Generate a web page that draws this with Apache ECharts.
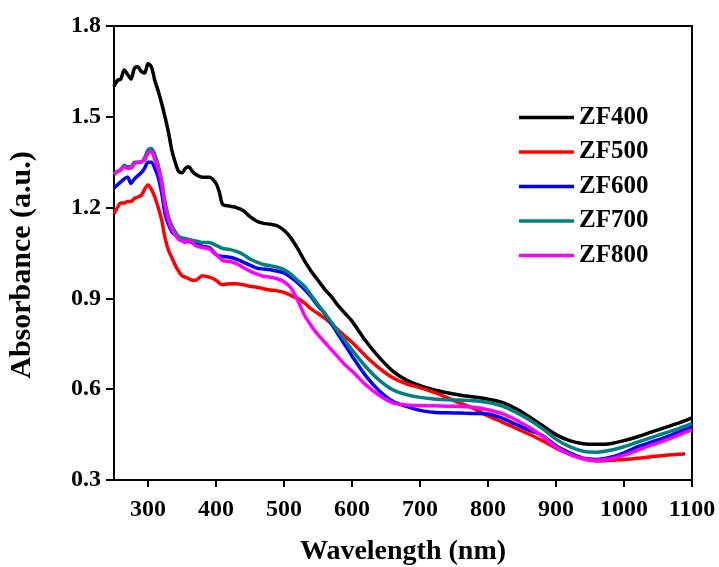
<!DOCTYPE html>
<html>
<head>
<meta charset="utf-8">
<script src="https://cdn.jsdelivr.net/npm/echarts@6/dist/echarts.min.js"></script>
<style>
  html, body { margin: 0; padding: 0; background: #fff; }
  #chart { width: 719px; height: 567px; }
</style>
</head>
<body>
<div id="chart"></div>
<script>
// Wavelength grid (nm) shared by all spectra
const wavelengths = [250, 255, 260, 265, 270, 275, 280, 285, 290, 295, 300, 305, 310, 315, 320, 325, 330, 335, 340, 345,
  350, 355, 360, 365, 370, 380, 390, 400, 405, 410, 420, 430, 440, 450, 460, 470, 480, 490, 500, 510,
  520, 530, 540, 550, 560, 570, 580, 590, 600, 620, 640, 660, 680, 700, 720, 740, 760, 780, 800, 820,
  840, 860, 880, 900, 920, 940, 960, 980, 1000, 1020, 1040, 1060, 1080, 1090, 1100];

const zf400 = [1.60, 1.62, 1.625, 1.655, 1.64, 1.625, 1.66, 1.665, 1.65, 1.645, 1.675, 1.665, 1.62, 1.585, 1.545, 1.50, 1.45, 1.39, 1.35, 1.32,
  1.315, 1.33, 1.335, 1.32, 1.31, 1.30, 1.30, 1.28, 1.25, 1.21, 1.205, 1.20, 1.19, 1.17, 1.155, 1.148, 1.145, 1.14, 1.125, 1.10,
  1.065, 1.025, 0.99, 0.96, 0.93, 0.905, 0.875, 0.85, 0.825, 0.76, 0.705, 0.66, 0.63, 0.612, 0.598, 0.588, 0.58, 0.574, 0.567, 0.557,
  0.537, 0.51, 0.48, 0.45, 0.43, 0.42, 0.418, 0.42, 0.43, 0.443, 0.458, 0.473, 0.488, 0.496, 0.505];

const zf500 = [1.18, 1.20, 1.215, 1.215, 1.22, 1.22, 1.23, 1.235, 1.24, 1.26, 1.275, 1.26, 1.235, 1.20, 1.16, 1.10, 1.06, 1.035, 1.01, 0.99,
  0.975, 0.97, 0.965, 0.96, 0.96, 0.975, 0.97, 0.96, 0.95, 0.945, 0.948, 0.948, 0.945, 0.94, 0.937, 0.932, 0.928, 0.925, 0.92, 0.91,
  0.90, 0.885, 0.865, 0.85, 0.835, 0.815, 0.795, 0.775, 0.755, 0.71, 0.67, 0.638, 0.618, 0.605, 0.59, 0.572, 0.553, 0.535, 0.512, 0.492,
  0.472, 0.452, 0.43, 0.405, 0.385, 0.37, 0.363, 0.365, 0.368, 0.372, 0.377, 0.382, 0.385, 0.387, null];

const zf600 = [1.265, 1.275, 1.285, 1.295, 1.30, 1.28, 1.295, 1.305, 1.315, 1.33, 1.35, 1.35, 1.33, 1.30, 1.25, 1.18, 1.145, 1.12, 1.11, 1.10,
  1.095, 1.092, 1.088, 1.085, 1.082, 1.072, 1.068, 1.045, 1.04, 1.038, 1.036, 1.03, 1.02, 1.01, 1.00, 0.997, 0.995, 0.99, 0.984, 0.97,
  0.952, 0.93, 0.905, 0.875, 0.85, 0.815, 0.78, 0.745, 0.71, 0.645, 0.595, 0.56, 0.543, 0.53, 0.524, 0.522, 0.521, 0.52, 0.518, 0.505,
  0.485, 0.465, 0.447, 0.413, 0.39, 0.372, 0.368, 0.375, 0.39, 0.41, 0.425, 0.44, 0.458, 0.467, 0.475];

const zf700 = [1.31, 1.32, 1.325, 1.34, 1.335, 1.335, 1.35, 1.35, 1.35, 1.365, 1.39, 1.395, 1.375, 1.34, 1.29, 1.22, 1.17, 1.14, 1.12, 1.105,
  1.10, 1.098, 1.095, 1.092, 1.09, 1.085, 1.085, 1.075, 1.07, 1.065, 1.062, 1.055, 1.045, 1.03, 1.02, 1.012, 1.008, 1.003, 0.995, 0.98,
  0.96, 0.94, 0.91, 0.88, 0.85, 0.82, 0.79, 0.76, 0.73, 0.675, 0.63, 0.598, 0.582, 0.573, 0.568, 0.565, 0.564, 0.562, 0.556, 0.545,
  0.525, 0.50, 0.47, 0.435, 0.41, 0.395, 0.392, 0.398, 0.41, 0.425, 0.44, 0.455, 0.47, 0.478, 0.487];

const zf800 = [1.31, 1.318, 1.325, 1.335, 1.33, 1.33, 1.345, 1.35, 1.352, 1.357, 1.38, 1.385, 1.36, 1.33, 1.28, 1.21, 1.16, 1.13, 1.11, 1.095,
  1.09, 1.085, 1.092, 1.085, 1.075, 1.068, 1.063, 1.045, 1.035, 1.025, 1.022, 1.015, 1.002, 0.99, 0.98, 0.973, 0.97, 0.965, 0.955, 0.935,
  0.895, 0.845, 0.81, 0.78, 0.755, 0.73, 0.705, 0.68, 0.66, 0.615, 0.58, 0.555, 0.548, 0.546, 0.545, 0.544, 0.543, 0.54, 0.532, 0.52,
  0.50, 0.475, 0.445, 0.41, 0.385, 0.37, 0.365, 0.37, 0.382, 0.398, 0.415, 0.43, 0.448, 0.457, 0.466];

const xTicks = [300, 400, 500, 600, 700, 800, 900, 1000, 1100];

const seriesDefs = [
  { name: 'ZF400', values: zf400, color: '#000000' },
  { name: 'ZF500', values: zf500, color: '#ff0000' },
  { name: 'ZF600', values: zf600, color: '#0000ff' },
  { name: 'ZF700', values: zf700, color: '#008080' },
  { name: 'ZF800', values: zf800, color: '#ff00ff' }
];

const FONT = '"Liberation Serif", "Times New Roman", serif';

const chart = echarts.init(document.getElementById('chart'), null, { renderer: 'canvas' });

chart.setOption({
  backgroundColor: '#ffffff',
  animation: false,
  grid: {
    left: 114, right: 27, top: 26, bottom: 87,
    containLabel: false, outerBoundsMode: 'none',
    show: true, borderColor: '#000', borderWidth: 2, backgroundColor: 'transparent'
  },
  legend: {
    left: 519, top: 105, orient: 'vertical', padding: 0,
    itemWidth: 55, itemHeight: 24, itemGap: 9.5,
    textStyle: { fontFamily: FONT, fontWeight: 'bold', fontSize: 25, color: '#000' },
    data: seriesDefs.map(s => ({ name: s.name, icon: 'path://M0,0 L55,0 L55,3.5 L0,3.5 Z' }))
  },
  xAxis: {
    type: 'value', min: 250, max: 1100,
    name: 'Wavelength (nm)', nameLocation: 'middle', nameGap: 58,
    nameTextStyle: { fontFamily: FONT, fontWeight: 'bold', fontSize: 28, color: '#000' },
    axisLine: { show: true, lineStyle: { color: '#000', width: 2 } },
    axisTick: { show: true, inside: false, length: 7, lineStyle: { color: '#000', width: 2 }, customValues: xTicks },
    axisLabel: { fontFamily: FONT, fontWeight: 'bold', fontSize: 24, color: '#000', margin: 18,
      customValues: xTicks, formatter: v => String(v) },
    splitLine: { show: false }
  },
  yAxis: {
    type: 'value', min: 0.3, max: 1.8, interval: 0.3,
    name: 'Absorbance (a.u.)', nameLocation: 'middle', nameGap: 77,
    nameTextStyle: { fontFamily: FONT, fontWeight: 'bold', fontSize: 30, color: '#000', padding: [0, 24, 0, 0] },
    axisLine: { show: true, lineStyle: { color: '#000', width: 2 } },
    axisTick: { show: true, inside: false, length: 8, lineStyle: { color: '#000', width: 2 } },
    axisLabel: { fontFamily: FONT, fontWeight: 'bold', fontSize: 24, color: '#000', margin: 13,
      formatter: v => v.toFixed(1) },
    splitLine: { show: false }
  },
  series: seriesDefs.map(s => ({
    name: s.name,
    type: 'line',
    showSymbol: false,
    symbol: 'none',
    smooth: 0.3,
    connectNulls: false,
    lineStyle: { color: s.color, width: 3.5 },
    itemStyle: { color: s.color },
    data: wavelengths.map((w, i) => [w, s.values[i]])
  }))
});
</script>
</body>
</html>
